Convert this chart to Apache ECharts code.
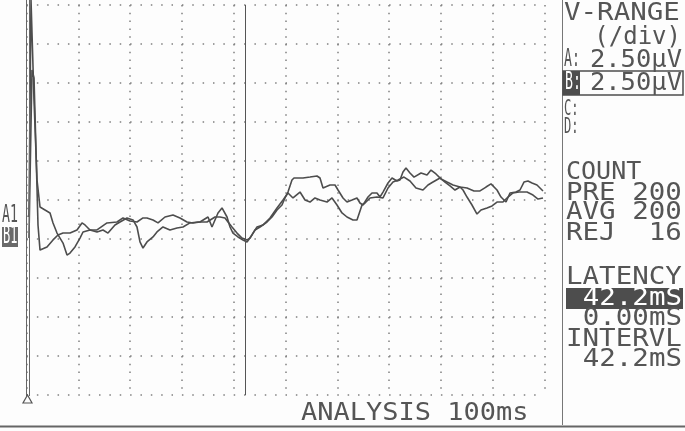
<!DOCTYPE html>
<html>
<head>
<meta charset="utf-8">
<script src="https://cdn.jsdelivr.net/npm/echarts@6/dist/echarts.min.js"></script>
<style>
  html, body { margin: 0; padding: 0; background: #fdfdfd; }
  #chart { width: 685px; height: 431px; }
</style>
</head>
<body>
<div id="chart"></div>
<script>
// time in ms (100 ms sweep), amplitude in µV (2.50 µV/div, 0 = screen centre)
var timeA = [0.48,0.87,1.45,2.03,2.61,3.57,4.54,5.12,5.89,6.47,7.05,7.82,8.40,9.36,10.33,10.91,12.26,13.61,14.77,15.73,17.08,18.05,19.40,20.56,21.33,21.91,22.49,23.26,24.42,25.19,26.35,27.70,29.05,30.21,31.56,33.11,34.85,36.39,37.36,38.32,38.90,39.67,40.64,41.60,42.57,43.15,44.11,45.08,46.43,47.39,48.36,49.32,49.90,50.48,51.25,51.64,53.38,54.73,56.08,56.66,57.24,58.59,59.56,60.14,61.10,61.87,62.84,63.80,64.38,64.96,65.93,66.70,67.66,68.24,68.82,69.79,70.56,71.53,72.10,72.68,73.26,74.03,74.81,76.16,77.32,78.09,79.05,80.02,81.18,82.34,83.69,85.04,86.39,87.55,88.71,89.67,90.83,91.60,92.57,93.34,94.50,95.27,96.04,96.81,97.59,98.55,99.71];
var voltA = [-1.09,12.82,6.41,1.28,-0.45,-0.64,-0.83,-1.47,-2.12,-2.44,-2.76,-3.53,-3.40,-3.01,-2.44,-2.05,-1.92,-2.05,-1.92,-2.12,-1.60,-1.41,-1.15,-1.28,-1.73,-2.69,-3.08,-2.69,-2.37,-2.05,-1.73,-1.92,-1.79,-1.73,-1.47,-1.41,-1.41,-1.09,-1.09,-1.15,-1.41,-1.73,-2.12,-2.44,-2.56,-2.44,-1.92,-1.73,-1.41,-1.09,-0.64,-0.32,0.13,0.51,1.28,1.41,1.41,1.47,1.54,1.41,0.77,0.96,0.96,0.64,0.13,-0.13,0.00,0.13,-0.19,-0.32,0.19,0.45,0.45,0.19,0.51,1.09,1.41,1.22,1.28,1.79,2.05,1.73,1.47,1.73,1.60,1.92,1.67,1.35,1.15,0.96,0.83,0.77,0.58,0.58,0.83,1.03,0.64,0.19,-0.13,0.45,0.51,0.64,1.15,1.22,1.09,0.96,0.58];

var timeB = [0.48,1.06,1.45,1.83,2.22,2.61,2.99,3.96,5.12,6.08,7.05,8.40,9.75,10.71,11.29,12.26,13.61,15.54,17.47,18.63,19.98,21.33,22.49,23.26,24.42,25.39,26.74,28.28,29.63,30.98,32.14,33.49,35.04,35.81,36.97,37.74,38.71,39.29,39.86,40.83,41.80,42.57,43.53,44.50,45.66,47.01,48.36,49.52,50.48,51.45,52.80,53.77,54.73,55.69,56.66,58.01,58.98,59.94,60.91,61.87,63.03,63.80,64.77,65.35,66.31,67.66,68.82,69.79,70.75,71.72,72.88,74.03,75.19,76.54,77.51,78.47,79.83,80.79,81.76,82.72,83.69,84.27,85.04,86.00,86.97,87.74,88.90,89.87,90.83,91.99,92.95,93.92,95.08,96.62,97.78,98.75,99.71];
var voltB = [-2.44,8.33,7.82,3.21,-1.60,-3.21,-3.33,-3.01,-2.56,-2.24,-2.12,-2.12,-1.92,-1.47,-1.60,-1.92,-1.92,-1.47,-1.41,-1.15,-1.35,-1.41,-1.15,-1.15,-1.28,-1.47,-1.09,-0.96,-1.15,-1.41,-1.47,-1.41,-1.09,-1.73,-0.83,-0.51,-1.09,-1.73,-2.12,-2.37,-2.56,-2.69,-2.24,-1.73,-1.60,-1.15,-0.51,0.00,0.45,0.13,0.51,0.00,-0.13,0.13,0.00,-0.13,0.13,-0.32,-0.83,-1.09,-1.28,-1.28,-0.32,-0.19,0.13,0.19,0.13,0.77,1.15,1.28,1.47,1.22,0.77,0.64,0.96,1.15,1.41,1.15,0.90,0.64,0.83,0.64,0.19,-0.32,-0.90,-0.64,-0.51,-0.38,-0.13,-0.13,0.19,0.45,0.51,0.51,0.32,0.06,0.13];

var latencyMs = 42.2;

var ink = '#4d4d4d';
var textInk = '#555';

function pairs(t, v) {
  return t.map(function (x, i) { return [x, v[i]]; });
}

// printer style text, stretched a bit wider like the thermal print
function label(text, x, y, size, sx, align, color) {
  return {
    type: 'text', x: x, y: y, scaleX: sx, z: 10,
    style: {
      text: text,
      font: size + 'px "DejaVu Sans Mono"',
      fill: color || textInk,
      textAlign: align || 'left', align: align || 'left',
      textVerticalAlign: 'middle', verticalAlign: 'middle'
    }
  };
}

function line(x1, y1, x2, y2, w, color) {
  return {
    type: 'line', z: 5,
    shape: { x1: x1, y1: y1, x2: x2, y2: y2 },
    style: { stroke: color || '#666', lineWidth: w || 1 }
  };
}

var chart = echarts.init(document.getElementById('chart'));

chart.setOption({
  backgroundColor: '#fdfdfd',
  animation: false,
  grid: { left: 26.5, right: 140.5, top: 5, bottom: 36 },
  xAxis: {
    type: 'value', min: 0, max: 100, interval: 10,
    axisLine: { show: false },
    axisTick: { show: false },
    axisLabel: { show: false },
    splitLine: {
      show: true,
      lineStyle: { color: '#808080', width: 1.5, type: [1.5, 6.3] }
    }
  },
  yAxis: {
    type: 'value', min: -12.5, max: 12.5, interval: 2.5,
    axisLine: { show: false },
    axisTick: { show: false },
    axisLabel: { show: false },
    splitLine: {
      show: true,
      lineStyle: { color: '#808080', width: 1.5, type: [1.5, 8.86] }
    }
  },
  series: [
    {
      name: 'A1', type: 'line', data: pairs(timeA, voltA),
      showSymbol: false, clip: false,
      lineStyle: { color: ink, width: 1.6 },
      markLine: {
        silent: true, symbol: ['none', 'none'],
        label: { show: false },
        lineStyle: { color: '#555', width: 1, type: 'solid' },
        data: [{ xAxis: latencyMs }]
      }
    },
    {
      name: 'B1', type: 'line', data: pairs(timeB, voltB),
      showSymbol: false, clip: false,
      lineStyle: { color: ink, width: 1.6 }
    }
  ],
  graphic: [
    // left frame (double line) and trigger mark
    line(26.5, 0, 26.5, 396, 1, '#666'),
    line(29.5, 0, 29.5, 396, 1, '#666'),
    {
      type: 'polygon', z: 5,
      shape: { points: [[27.5, 395], [23, 403], [32, 403]] },
      style: { fill: 'none', stroke: '#555', lineWidth: 1.2 }
    },
    // panel border and bottom rule
    line(562.5, 0, 562.5, 425, 1, '#777'),
    line(0, 426.5, 685, 426.5, 2, '#666'),

    // channel markers
    label('A1', 2, 216, 24, 0.55),
    { type: 'rect', z: 9, shape: { x: 2, y: 227, width: 16, height: 20 }, style: { fill: '#6a6a6a' } },
    label('B1', 3, 237, 24, 0.5, 'left', '#fff'),

    // V-RANGE block
    label('V-RANGE', 564, 13, 25, 1.1),
    label('(/div)', 681, 38, 24, 1.0, 'right'),
    label('A:', 564, 60, 24, 0.55),
    label('2.50µV', 682, 60, 25, 1.02, 'right'),
    { type: 'rect', z: 9, shape: { x: 563, y: 71, width: 120, height: 24 }, style: { fill: 'none', stroke: ink, lineWidth: 1.5 } },
    { type: 'rect', z: 9, shape: { x: 563, y: 71, width: 17, height: 24 }, style: { fill: ink } },
    label('B:', 565, 83, 24, 0.55, 'left', '#fff'),
    label('2.50µV', 682, 83, 25, 1.02, 'right'),
    label('C:', 564, 109, 22, 0.55),
    label('D:', 564, 127, 22, 0.55),

    // COUNT block
    label('COUNT', 566, 172, 25, 1.0),
    label('PRE 200', 566, 193, 25, 1.1),
    label('AVG 200', 566, 212, 25, 1.1),
    label('REJ  16', 566, 233, 25, 1.1),

    // LATENCY block
    label('LATENCY', 566, 277, 25, 1.1),
    { type: 'rect', z: 9, shape: { x: 566, y: 288, width: 117, height: 21 }, style: { fill: ink } },
    label('42.2mS', 682, 298, 25, 1.1, 'right', '#fff'),
    label('0.00mS', 682, 318, 25, 1.1, 'right'),
    label('INTERVL', 566, 339, 25, 1.1),
    label('42.2mS', 682, 359, 25, 1.1, 'right'),

    // sweep
    label('ANALYSIS 100ms', 301, 413, 25, 1.08)
  ]
});
</script>
</body>
</html>
